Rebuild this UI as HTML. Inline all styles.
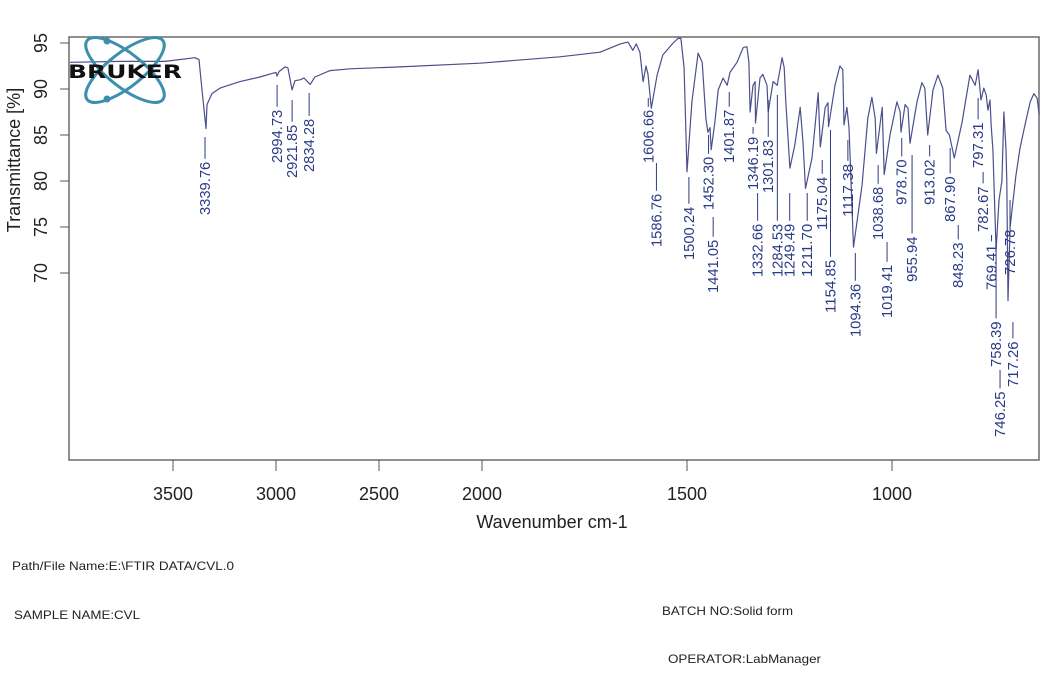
<!DOCTYPE html>
<html><head><meta charset="utf-8"><style>
html,body{margin:0;padding:0;background:#fff;}
svg{display:block;font-family:"Liberation Sans",Arial,sans-serif;}
</style></head><body>
<svg id="chart" width="1055" height="673" viewBox="0 0 1055 673" xmlns="http://www.w3.org/2000/svg">
  <rect x="0" y="0" width="1055" height="673" fill="#fff"/>
  <rect x="69" y="37" width="970" height="423" fill="none" stroke="#6a6a6a" stroke-width="1.5"/>
  <g id="ticks"></g>
  <g id="marks"></g>
  <g id="labels"></g>
  <g>
    <ellipse cx="125" cy="70" rx="48" ry="17" transform="rotate(38 125 70)" fill="none" stroke="#3d8fae" stroke-width="3"/>
    <ellipse cx="125" cy="70" rx="48" ry="17" transform="rotate(-38 125 70)" fill="none" stroke="#3d8fae" stroke-width="3"/>
    <circle cx="107" cy="41" r="3.5" fill="#3d8fae"/>
    <circle cx="107" cy="99" r="3.5" fill="#3d8fae"/>
    <text x="68" y="78" font-size="19" font-weight="bold" fill="#111" textLength="114" lengthAdjust="spacingAndGlyphs" font-family="'DejaVu Sans','Liberation Sans',sans-serif">BRUKER</text>
  </g>
  <text x="0" y="0" transform="translate(20,160) rotate(-90)" text-anchor="middle" font-size="18" fill="#222">Transmittance [%]</text>
  <text x="552" y="528" text-anchor="middle" font-size="18" fill="#222">Wavenumber cm-1</text>
  <g font-size="12" fill="#222">
    <text x="12" y="570" textLength="222" lengthAdjust="spacingAndGlyphs">Path/File Name:E:\FTIR DATA/CVL.0</text>
    <text x="14" y="619" textLength="126" lengthAdjust="spacingAndGlyphs">SAMPLE NAME:CVL</text>
    <text x="662" y="615" textLength="131" lengthAdjust="spacingAndGlyphs">BATCH NO:Solid form</text>
    <text x="668" y="663" textLength="153" lengthAdjust="spacingAndGlyphs">OPERATOR:LabManager</text>
  </g>
</svg>
<script>
// ---- data ----
var wavenumbers = [4000,3757,3539,3393,3374,3359,3340,3335,3311,3272,3175,3078,3019,3000,2995,2985,2956,2942,2922,2908,2883,2864,2834,2811,2738,2641,2398,2010,1810,1712,1663,1644,1632,1624,1615,1607,1600,1595,1587,1573,1559,1534,1522,1515,1507,1500,1488,1473,1463,1454,1449,1444,1441,1432,1424,1412,1402,1395,1378,1363,1354,1349,1346,1339,1334,1333,1322,1315,1305,1302,1290,1280,1268,1263,1259,1249,1237,1224,1217,1211,1195,1180,1175,1163,1156,1155,1139,1127,1120,1117,1110,1105,1094,1073,1059,1049,1041,1038,1024,1019,1005,988,980,978,968,961,956,939,927,920,913,900,888,876,868,860,848,829,810,797,790,783,776,770,766,761,758,754,746,739,732,727,722,720,717,712,698,688,676,663,654,646,641];
var transmittance = [92.9,93.0,93.0,93.4,93.2,89.9,85.7,88.3,89.5,90.1,90.8,91.3,91.7,91.8,91.4,91.9,92.4,92.3,89.9,90.9,91.0,91.2,90.5,91.3,92.0,92.2,92.4,92.8,93.5,94.0,94.9,95.1,94.2,94.9,94.0,90.8,92.5,91.6,87.9,91.5,93.7,95.0,95.5,95.5,92.3,81.0,88.6,93.9,92.9,86.8,85.3,85.8,83.4,86.4,89.9,91.2,90.4,91.8,92.9,94.5,94.6,92.9,87.5,90.4,90.8,86.3,91.2,91.6,90.4,87.5,90.8,90.4,93.4,92.3,88.6,81.4,83.9,88.0,84.2,79.2,82.5,89.6,83.7,88.0,88.5,85.9,90.4,92.5,92.1,86.1,88.0,85.8,72.8,79.6,86.8,89.1,86.8,83.0,88.0,80.7,85.0,88.6,87.5,85.3,88.3,87.9,84.1,88.6,90.7,90.1,85.0,89.9,91.5,90.1,85.5,85.0,82.5,86.4,91.5,90.4,92.1,88.8,90.1,89.3,87.7,88.8,86.0,83.4,72.5,77.9,80.0,87.5,83.4,80.0,67.0,75.0,80.5,83.5,86.0,88.6,89.5,89.0,87.2];
var peakLabels = ["3339.76","2994.73","2921.85","2834.28","1606.66","1586.76","1500.24","1452.30","1441.05","1401.87","1346.19","1332.66","1301.83","1284.53","1249.49","1211.70","1175.04","1154.85","1117.38","1094.36","1038.68","1019.41","978.70","955.94","913.02","867.90","848.23","797.31","782.67","769.41","758.39","746.25","726.78","717.26"];
var xTickValues = [3500,3000,2500,2000,1500,1000];
var yTickValues = [95,90,85,80,75,70];
// ---- layout (not data) ----
var labelDx = [-1,0,0,-1,5,5,2,2,2,2,3,2,0,2,0,2,2,2,4,2,2,3,1,2,2,4,4,3,2,5,5,4,6,5];
var labelBottom = [215,163,178,172,163,247,260,210,293,163,190,277,193,277,277,277,230,313,217,337,240,318,205,282,205,222,288,168,232,290,367,437,275,387];
var labelLineTop = [137,85,100,93,98,163,177,135,217,92,127,193,100,95,193,193,160,130,140,253,165,242,138,155,145,148,225,98,172,235,250,370,200,322];

function xs(w){ return w >= 2000 ? 482 - (w - 2000) * 0.206 : 482 + (2000 - w) * 0.41; }
function ys(t){ return 43 + (95 - t) * 9.2; }

var NS = "http://www.w3.org/2000/svg";
function mk(tag, attrs, parent){
  var el = document.createElementNS(NS, tag);
  for (var k in attrs) el.setAttribute(k, attrs[k]);
  parent.appendChild(el);
  return el;
}
var ticks = document.getElementById('ticks');
var marks = document.getElementById('marks');
var labels = document.getElementById('labels');

xTickValues.forEach(function(v){
  var x = xs(v);
  var t = mk('line', {x1:x, y1:460, x2:x, y2:471, stroke:'#555', 'stroke-width':1}, ticks);
  
  
  var l = mk('text', {x:x, y:500, 'text-anchor':'middle', 'font-size':18, fill:'#222', textLength:40, lengthAdjust:'spacingAndGlyphs'}, ticks);
  l.textContent = v;
  
  
});
yTickValues.forEach(function(v){
  var y = ys(v);
  var t = mk('line', {x1:60, y1:y, x2:69, y2:y, stroke:'#555', 'stroke-width':1}, ticks);
  
  
  var l = mk('text', {x:0, y:0, transform:'translate(47,' + y + ') rotate(-90)', 'text-anchor':'middle', 'font-size':18, fill:'#222'}, ticks);
  l.textContent = v;
  
  
});

var d = '';
for (var i = 0; i < wavenumbers.length; i++){
  d += (i ? 'L' : 'M') + xs(wavenumbers[i]).toFixed(1) + ',' + ys(transmittance[i]).toFixed(1);
}
var path = mk('path', {d:d, fill:'none', stroke:'#4b4f8c', 'stroke-width':1.2, 'stroke-linejoin':'round'}, marks);



peakLabels.forEach(function(s, i){
  var x = xs(parseFloat(s)) + labelDx[i];
  var len = s.length * 7.6;
  var yb = labelBottom[i];
  var textTop = yb - len;
  var ln = mk('line', {x1:x, y1:labelLineTop[i], x2:x, y2:textTop - 3, stroke:'#2b3a85', 'stroke-width':1}, labels);
  
  
  var t = mk('text', {x:0, y:0, transform:'translate(' + (x + 5) + ',' + yb + ') rotate(-90)', 'font-size':15, fill:'#2b3a85', textLength:len, lengthAdjust:'spacingAndGlyphs'}, labels);
  t.textContent = s;
  
  
});
</script>
</body></html>
